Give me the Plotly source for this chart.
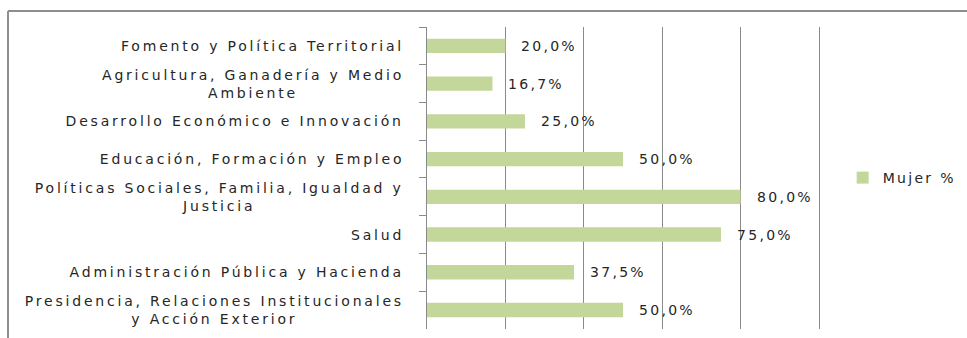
import plotly.graph_objects as go

# Departments (top to bottom) and share of women in each
departamentos = [
    "Fomento y Política Territorial",
    "Agricultura, Ganadería y Medio<br>Ambiente",
    "Desarrollo Económico e Innovación",
    "Educación, Formación y Empleo",
    "Políticas Sociales, Familia, Igualdad y<br>Justicia",
    "Salud",
    "Administración Pública y Hacienda",
    "Presidencia, Relaciones Institucionales<br>y Acción Exterior",
]
mujer_pct = [20.0, 16.7, 25.0, 50.0, 80.0, 75.0, 37.5, 50.0]
serie = "Mujer %"

FONT = "DejaVu Sans"
GRID = "#8a8a8a"
TXT = "#262626"
BAR = "#c4d79b"

fig = go.Figure()
fig.add_trace(go.Bar(
    x=mujer_pct,
    y=departamentos,
    orientation="h",
    name=serie,
    marker=dict(color=BAR, line=dict(width=0)),
    width=0.38,
    showlegend=True,
))

annotations = []
# Category labels, centred per block and right-aligned to the axis
for d in departamentos:
    annotations.append(dict(
        x=0, xref="paper", y=d, yref="y",
        text=d, showarrow=False, xanchor="right", yanchor="middle",
        align="center", xshift=-21, name="cat",
        font=dict(family=FONT, size=14, color=TXT),
    ))
# Value labels beside each bar
for d, v in zip(departamentos, mujer_pct):
    annotations.append(dict(
        x=v, xref="x", y=d, yref="y",
        text=f"{v:.1f}".replace(".", ",") + "%",
        showarrow=False, xanchor="left", yanchor="middle", xshift=14,
        name="val",
        font=dict(family=FONT, size=14, color=TXT),
    ))

L, R, T, B = 427, 146, 27, 9
PW, PH = 967 - L - R, 338 - T - B

fig.update_layout(
    width=967, height=338,
    margin=dict(l=L, r=R, t=T, b=B),
    paper_bgcolor="white", plot_bgcolor="white",
    font=dict(family=FONT, size=14, color=TXT),
    bargap=0.62,
    legend=dict(
        x=1.055, y=0.5, xanchor="left", yanchor="middle",
        font=dict(family=FONT, size=14, color=TXT),
        bgcolor="rgba(0,0,0,0)",
    ),
    annotations=annotations,
    shapes=[
        # chart frame: top and left edges
        dict(type="line", xref="paper", yref="paper",
             x0=(8 - L) / PW, x1=(967 - L) / PW,
             y0=(338 - B - 11) / PH, y1=(338 - B - 11) / PH,
             line=dict(color="#8f8f8f", width=2)),
        dict(type="line", xref="paper", yref="paper",
             x0=(8 - L) / PW, x1=(8 - L) / PW,
             y0=(338 - B - 11) / PH, y1=-0.1,
             line=dict(color="#8f8f8f", width=2)),
    ],
)

fig.update_xaxes(
    range=[0, 100.5], dtick=20, showticklabels=False,
    showgrid=True, gridcolor=GRID, gridwidth=1,
    zeroline=False, showline=False, ticks="",
    fixedrange=True,
)
fig.update_yaxes(
    categoryorder="array", categoryarray=departamentos,
    autorange="reversed",
    showticklabels=False,
    showline=True, linecolor=GRID, linewidth=1,
    ticks="outside", tickson="boundaries", ticklen=7, tickcolor=GRID,
    showgrid=False, zeroline=False,
)

# Widen the lettering; annotation texts are centre-anchored, so shift each
# one by half its growth to keep the category labels flush right and the
# value labels flush left.
spacing_js = """
var gd = document.getElementById('{plot_id}');
gd.querySelectorAll('text.annotation-text').forEach(function (t) {
  var isVal = /%$/.test(t.textContent);
  var w0 = t.getBBox().width;
  t.style.letterSpacing = isVal ? '2.3px' : '2.8px';
  var w1 = t.getBBox().width;
  var dx = (w1 - w0) / 2 * (isVal ? 1 : -1);
  var tr = t.getAttribute('transform') || '';
  t.setAttribute('transform', tr + ' translate(' + dx + ',0)');
});
gd.querySelectorAll('.legend .scrollbox').forEach(function (g) {
  g.removeAttribute('clip-path');
});
gd.querySelectorAll('text.legendtext').forEach(function (t) {
  t.style.letterSpacing = '2.3px';
});
"""

fig.write_html("out.html", post_script=spacing_js)
